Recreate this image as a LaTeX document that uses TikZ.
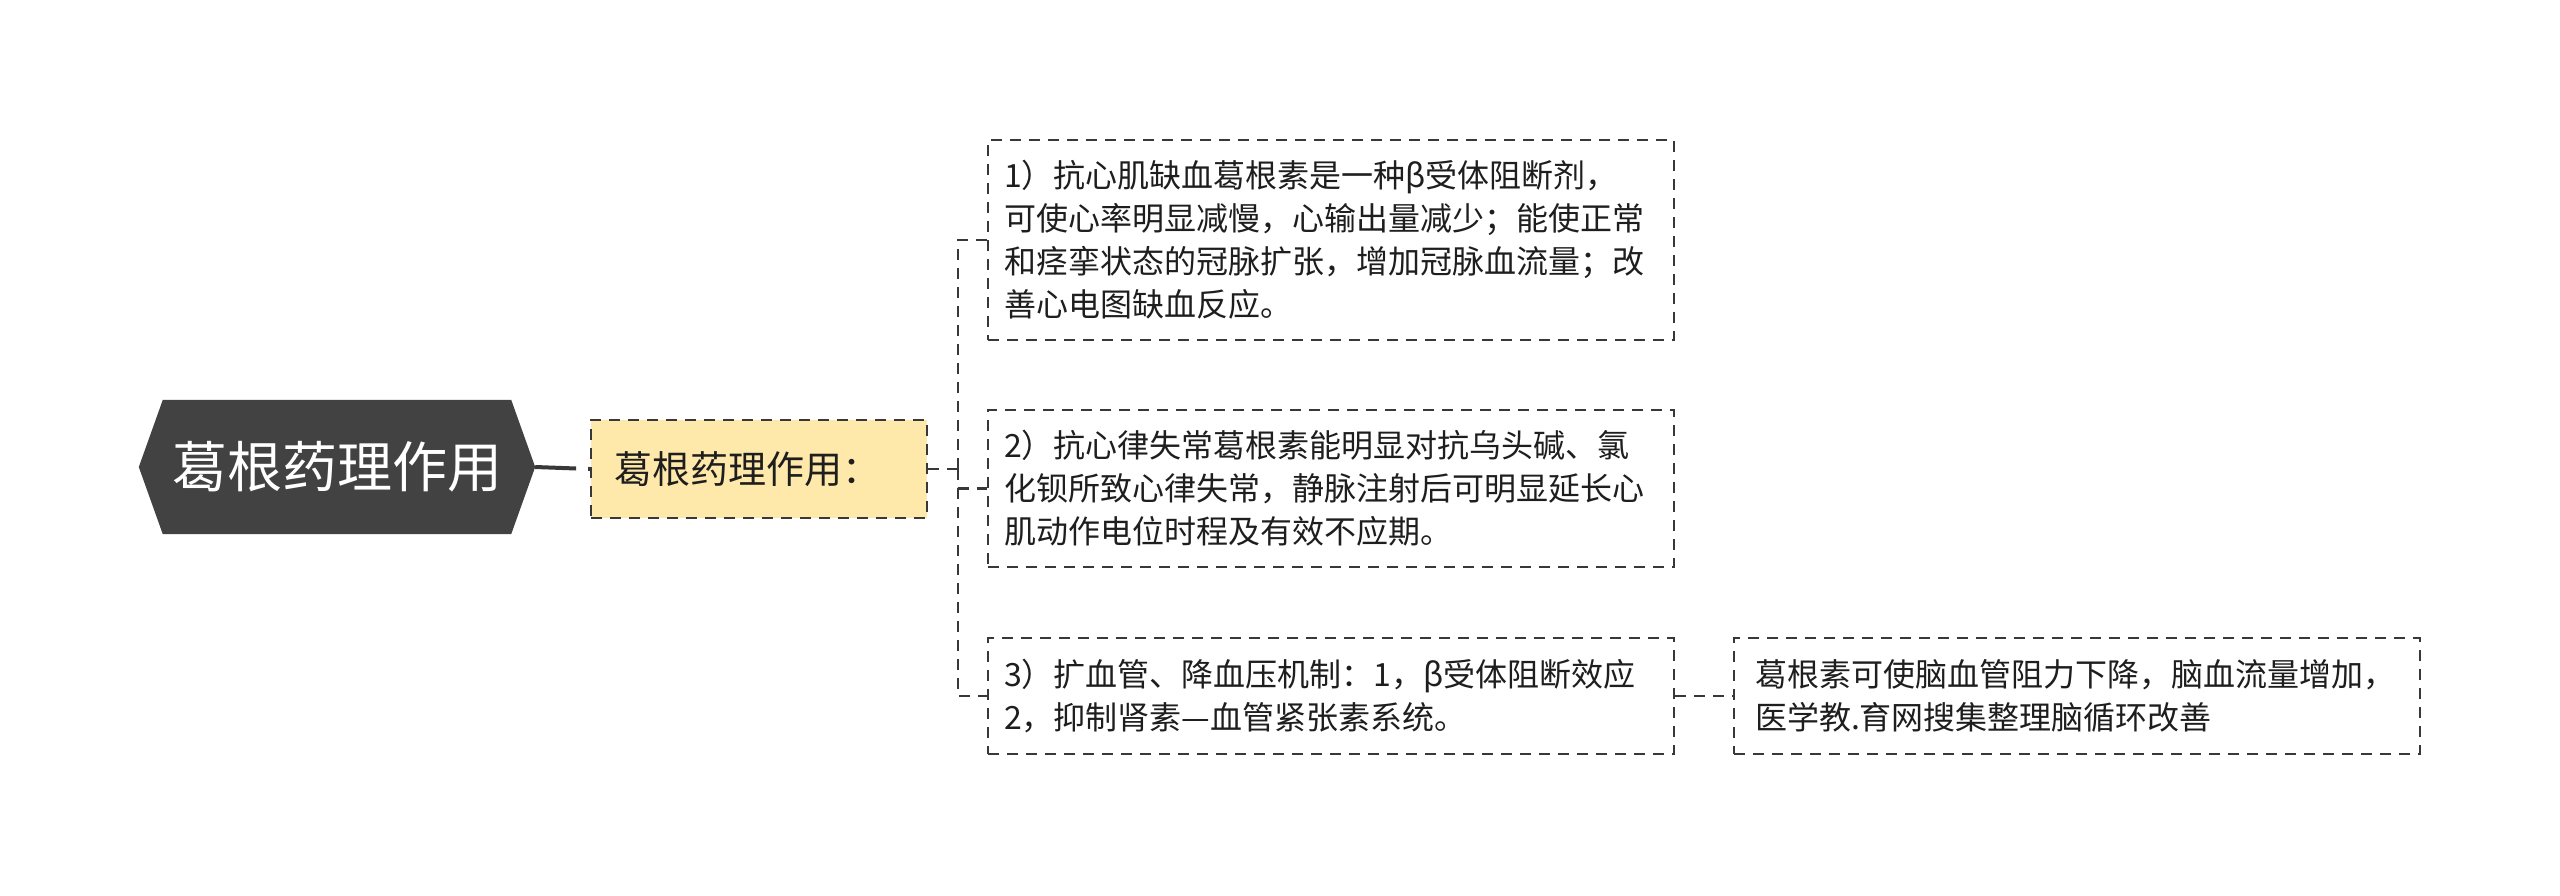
\documentclass[tikz,border=0pt]{standalone}
\usepackage{fontspec}
\newfontfamily\cjk{Noto Sans CJK SC}
\usetikzlibrary{backgrounds}
\definecolor{rootfill}{HTML}{424242}
\definecolor{mainfill}{HTML}{FFE9AA}
\definecolor{linecol}{HTML}{383838}
\definecolor{textcol}{HTML}{1E1E1E}
\tikzset{
  dashline/.style={draw=linecol, line width=2.3pt, dash pattern=on 11pt off 8pt},
  rootnode/.style={minimum width=396pt, minimum height=134pt, inner sep=0pt,
    text=white, font=\cjk\fontsize{55}{60}\selectfont},
  mainnode/.style={dashline, fill=mainfill, minimum width=336pt, minimum height=98pt,
    inner xsep=23pt, inner ysep=0pt, text width=290pt, align=left, text=textcol,
    font=\cjk\fontsize{38}{44}\selectfont},
  leafnode/.style={dashline, fill=white, minimum width=686pt, inner xsep=16pt, inner ysep=0pt,
    text width=654pt, align=left, text=textcol, font=\cjk\fontsize{32}{43}\selectfont},
  conn/.style={dashline},
  rootconn/.style={draw=linecol, line width=4pt, dash pattern=on 41pt off 12pt on 10pt off 4pt},
}
\begin{document}
\begin{tikzpicture}[x=1pt,y=-1pt]
\useasboundingbox (0,0) rectangle (2560,895);
\node[rootnode] (root) at (337,467) {葛根药理作用};
\begin{pgfonlayer}{background}
\fill[rootfill] ([xshift=24pt]root.north west) -- ([xshift=-24pt]root.north east) -- (root.east)
  -- ([xshift=-24pt]root.south east) -- ([xshift=24pt]root.south west) -- (root.west) -- cycle;
\end{pgfonlayer}
\node[mainnode] (main) at (759,469) {葛根药理作用：};
\node[leafnode, minimum height=200pt] (b1) at (1331,240) {1）抗心肌缺血葛根素是一种β受体阻断剂，\\可使心率明显减慢，心输出量减少；能使正常\\和痉挛状态的冠脉扩张，增加冠脉血流量；改\\善心电图缺血反应。};
\node[leafnode, minimum height=157pt] (b2) at (1331,488.5) {2）抗心律失常葛根素能明显对抗乌头碱、氯\\化钡所致心律失常，静脉注射后可明显延长心\\肌动作电位时程及有效不应期。};
\node[leafnode, minimum height=116pt] (b3) at (1331,696) {3）扩血管、降血压机制：1，β受体阻断效应\\2，抑制肾素—血管紧张素系统。};
\node[leafnode, minimum height=116pt, inner xsep=21pt, text width=644pt] (b4) at (2077,696) {葛根素可使脑血管阻力下降，脑血流量增加，\\医学教.育网搜集整理脑循环改善};
\coordinate (bus) at (958,469);
\draw[rootconn] (root.east) -- (main.west);
\draw[conn] (main.east) -- (bus);
\draw[conn] (bus) |- (b1.west);
\draw[conn] (bus) |- (b2.west);
\draw[conn] (bus) |- (b3.west);
\draw[conn] (b3.east) -- (b4.west);
\end{tikzpicture}
\end{document}
